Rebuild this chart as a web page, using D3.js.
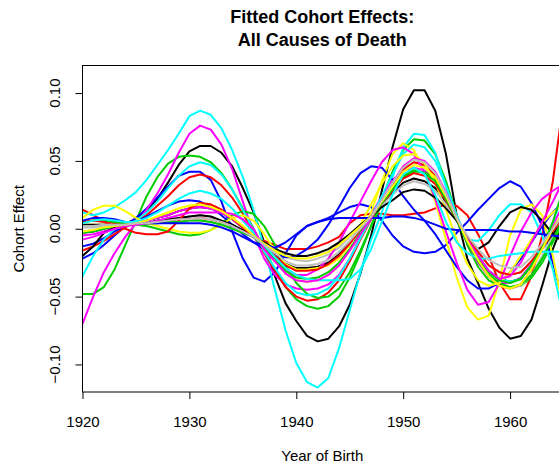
<!DOCTYPE html>
<html>
<head>
<meta charset="utf-8">
<script src="https://cdn.jsdelivr.net/npm/d3@7"></script>
<style>
  body { margin: 0; background: #fff; }
  svg { font-family: "Liberation Sans", Arial, Helvetica, sans-serif; }
</style>
</head>
<body>
<div id="chart"></div>
<script>
// years of birth, one value per year
var years = [1920,1921,1922,1923,1924,1925,1926,1927,1928,1929,1930,1931,1932,1933,1934,1935,1936,
  1937,1938,1939,1940,1941,1942,1943,1944,1945,1946,1947,1948,1949,1950,1951,1952,1953,1954,1955,
  1956,1957,1958,1959,1960,1961,1962,1963,1964,1965];

// fitted cohort effects (matplot order, colours cycle 1..8)
var k1 = [-.003,-.002,.000,.002,.004, .007,.013,.022,.034,.047,.057,.061,.061,.056,.046,.030,.012, -.010,-.035,-.055,-.068,-.079,-.083,-.081,-.072,-.056,-.033,-.005, .028,.060,.088,.102,.102,.087,.055,.010, -.022,-.040,-.059,-.073,-.081,-.079,-.067,-.042, -.015,.005];
var r1 = [.014,.010,.006,.004,.003, .004,.004,.005,.006,.007,.007,.008,.007,.005,.002,-.002,-.006, -.009,-.012,-.015,-.015,-.015,-.013,-.010,-.006,.004,.010,.011, .011,.010,.010,.011,.012,.015,.018,.017, .010,-.004,-.020,-.040,-.052,-.052,-.035,-.005, .035,.095];
var g1 = [-.048,-.048,-.043,-.030,-.012, .006,.024,.038,.048,.053,.054,.053,.049,.041,.029,.015,.000, -.015,-.030,-.043,-.052,-.057,-.059,-.057,-.050,-.036,-.018,.002, .022,.042,.058,.066,.065,.055,.035,.010, -.012,-.028,-.038,-.042,-.043,-.042,-.036,-.025, -.010,.005];
var b1 = [-.022,-.018,-.012,-.005,.002, .008,.015,.023,.031,.039,.042,.042,.036,.020,-.002,-.022,-.036, -.039,-.032,-.018,-.005,.002,.005,.008,.012,.016,.018,.016, .006,-.005,-.013,-.017,-.018,-.017,-.012,-.003, .005,.014,.022,.030,.035,.031,.019,.002, -.025,-.055];
var c1 = [.012,.010,.012,.016,.021, .027,.036,.047,.058,.070,.083,.087,.084,.074,.058,.038,.014, -.014,-.045,-.075,-.099,-.113,-.117,-.110,-.088,-.060,-.032,-.008, .012,.038,.060,.070,.069,.056,.031,.006, -.008,-.009,-.001,.010,.018,.018,.012,-.005, -.030,-.065];
var m1 = [-.070,-.050,-.032,-.018,-.006, .004,.014,.026,.040,.056,.070,.076,.073,.062,.044,.020,-.004, -.022,-.034,-.041,-.044,-.045,-.044,-.041,-.034,-.022,-.006,.010, .024,.036,.043,.045,.043,.036,.024,.008, -.010,-.025,-.035,-.040,-.040,-.036,-.026,-.012, .003,.018];
var y1 = [.003,.003,.003,.003,.003, .004,.006,.009,.012,.015,.017,.018,.016,.013,.008,.002,-.005, -.015,-.024,-.033,-.038,-.039,-.038,-.034,-.027,-.016,-.004,.012, .035,.055,.063,.058,.042,.020,-.008,-.036, -.058,-.067,-.064,-.038,-.005,.014,.018,.010, -.020,-.060];
var gy1 = [-.002,-.001,.001,.002,.003, .004,.004,.006,.007,.008,.009,.010,.009,.006,.003,-.001,-.006, -.011,-.017,-.021,-.023,-.024,-.022,-.019,-.014,-.006,.001,.009, .019,.029,.039,.043,.041,.035,.022,.007, -.009,-.023,-.035,-.042,-.044,-.042,-.034,-.020, -.005,.010];
var k2 = [.003,.003,.003,.003,.003, .004,.006,.008,.010,.013,.015,.016,.015,.012,.007,.001,-.005, -.013,-.019,-.026,-.029,-.029,-.028,-.025,-.019,-.010,-.001,.009, .018,.026,.034,.037,.035,.030,.019,.007, -.008,-.020,-.031,-.037,-.039,-.037,-.027,-.014, -.004,.006];
var r2 = [-.016,-.013,-.009,-.004,.001, .006,.010,.017,.024,.032,.038,.040,.038,.032,.023,.011,-.002, -.018,-.031,-.043,-.050,-.053,-.052,-.047,-.038,-.024,-.008,.007, .020,.033,.044,.049,.047,.039,.025,.008, -.009,-.023,-.035,-.042,-.044,-.041,-.030,-.015, -.002,.010];
var g2 = [.005,.006,.006,.005,.004, .003,.002,.000,-.002,-.004,-.005,-.004,-.001,.004,.010,.013,.011, .002,-.012,-.027,-.040,-.048,-.051,-.050,-.044,-.032,-.016,.002, .018,.030,.038,.042,.042,.036,.022,.006, -.010,-.024,-.034,-.040,-.043,-.041,-.034,-.022, -.008,.008];
var b2 = [-.013,-.011,-.007,-.002,.002, .005,.009,.013,.017,.020,.021,.020,.016,.010,.003,-.004,-.010, -.015,-.019,-.021,-.020,-.015,-.008,.003,.016,.030,.041,.046, .045,.036,.024,.014,.006,-.004,-.016,-.028, -.038,-.044,-.044,-.040,-.032,-.022,-.010,.002, .012,.020];
var c2 = [-.035,-.020,-.008,.000,.003, .006,.012,.020,.030,.039,.046,.049,.047,.040,.029,.014,-.001, -.017,-.029,-.040,-.047,-.049,-.048,-.044,-.035,-.022,-.007,.008, .024,.040,.055,.062,.060,.050,.032,.010, -.008,-.020,-.031,-.037,-.039,-.037,-.027,-.014, .005,.025];
var m2 = [-.005,-.004,-.002,.000,.002, .004,.006,.008,.010,.013,.015,.016,.015,.012,.007,.001,-.005, -.015,-.024,-.031,-.034,-.034,-.030,-.022,-.010,.005,.020,.035, .049,.058,.060,.055,.042,.022,-.002,-.025, -.045,-.056,-.054,-.040,-.020,-.002,.012,.022, .028,.033];
var y2 = [.008,.014,.017,.017,.013, .008,.004,.002,.000,-.002,-.003,-.003,-.001,.003,.008,.010,.006, -.004,-.016,-.026,-.030,-.030,-.029,-.027,-.022,-.012,.003,.018, .033,.046,.054,.055,.048,.034,.014,-.008, -.026,-.038,-.042,-.040,-.032,-.020,-.008,.004, .012,.018];
var gy2 = [.001,.001,.002,.002,.003, .003,.004,.004,.005,.005,.006,.006,.005,.003,.000,-.003,-.006, -.010,-.015,-.018,-.020,-.020,-.018,-.015,-.010,-.004,.003,.009, .017,.025,.032,.035,.033,.028,.018,.006, -.006,-.017,-.027,-.032,-.034,-.032,-.024,-.013, .000,.012];
var k3 = [-.020,-.013,-.003,.001,.003, .004,.004,.006,.007,.008,.009,.010,.009,.006,.003,-.001,-.006, -.010,-.015,-.018,-.020,-.020,-.018,-.015,-.010,-.004,.003,.009, .016,.021,.027,.029,.028,.023,.015,.006, -.006,-.015,-.010,.002,.012,.016,.014,.006, -.004,-.010];
var r3 = [.005,.006,.005,.002,.000, -.003,-.004,-.004,-.002,.006,.015,.019,.018,.014,.008,.001,-.006, -.013,-.020,-.027,-.031,-.031,-.030,-.026,-.020,-.011,-.001,.008, .019,.028,.037,.041,.039,.033,.021,.007, -.006,-.017,-.027,-.032,-.034,-.032,-.024,-.013, .000,.012];
var g3 = [-.003,-.002,.000,.002,.003, .003,.004,.004,.005,.005,.006,.006,.005,.003,.000,-.003,-.006, -.014,-.023,-.031,-.036,-.037,-.036,-.032,-.025,-.015,-.003,.008, .019,.029,.039,.043,.041,.035,.022,.007, -.008,-.021,-.032,-.038,-.040,-.037,-.027,-.014, .005,.030];
var b3 = [.006,.008,.008,.007,.005, .004,.004,.004,.004,.004,.004,.004,.003,.001,-.002,-.006,-.010, -.012,-.014,-.010,-.004,.002,.005,.007,.008,.008,.008,.008, .008,.009,.009,.008,.006,.003,.000,-.001, -.001,-.001,-.001,-.001,-.002,-.002,-.003,-.004, -.005,-.006];
var c3 = [.004,.006,.007,.006,.005, .005,.008,.012,.017,.022,.026,.028,.026,.022,.015,.006,-.003, -.012,-.021,-.029,-.034,-.037,-.038,-.038,-.038,-.037,-.030,-.015, .005,.025,.040,.045,.040,.025,.005,-.010, -.018,-.022,-.022,-.020,-.019,-.018,-.017,-.017, -.017,-.017];
var m3 = [-.008,-.006,-.003,.000,.002, .003,.004,.006,.008,.010,.012,.012,.012,.012,.011,.007,.000, -.015,-.024,-.033,-.038,-.039,-.038,-.034,-.027,-.016,-.004,.008, .021,.034,.046,.052,.050,.042,.027,.008, -.008,-.020,-.031,-.037,-.035,-.025,-.010,.005, .020,.036];
var y3 = [-.002,-.001,.001,.002,.003, .004,.006,.009,.012,.015,.017,.018,.016,.013,.008,.002,-.005, -.011,-.016,-.020,-.022,-.022,-.020,-.017,-.012,-.005,.002,.009, .020,.031,.042,.047,.045,.038,.024,.008, -.009,-.023,-.035,-.042,-.044,-.041,-.030,-.015, .000,.012];
var gy3 = [.002,.002,.003,.003,.003, .004,.004,.005,.006,.007,.007,.008,.007,.005,.002,-.002,-.006, -.012,-.018,-.024,-.027,-.027,-.026,-.023,-.017,-.009,.000,.009, .021,.034,.045,.051,.049,.041,.026,.008, -.005,-.015,-.023,-.027,-.029,-.028,-.021,-.011, .000,.010];

var series = [k1, r1, g1, b1, c1, m1, y1, gy1,
              k2, r2, g2, b2, c2, m2, y2, gy2,
              k3, r3, g3, b3, c3, m3, y3, gy3];

// R's classic palette 1:8
var palette = ["#000000", "#FF0000", "#00CD00", "#0000FF", "#00FFFF", "#FF00FF", "#FFFF00", "#BEBEBE"];

var xTickValues = [1920, 1930, 1940, 1950, 1960];
var yTickValues = [-0.10, -0.05, 0.00, 0.05, 0.10];
var yTickLabels = ["\u22120.10", "\u22120.05", "0.00", "0.05", "0.10"];
var titleLines = ["Fitted Cohort Effects:", "All Causes of Death"];
var xLabel = "Year of Birth";
var yLabel = "Cohort Effect";

var W = 559, H = 467;
var plot = {left: 82.5, right: 562, top: 65.5, bottom: 392};

var svg = d3.select("#chart").append("svg")
    .attr("width", W)
    .attr("height", H);

svg.append("rect").attr("width", W).attr("height", H).attr("fill", "#fff");

var x = d3.scaleLinear()
    .domain([1920, 1970])
    .range([plot.left, plot.left + 50 * 10.69]);

var y = d3.scaleLinear()
    .domain([-0.1203, 0.1203])
    .range([plot.bottom, plot.top]);

svg.append("clipPath")
    .attr("id", "plotclip")
    .append("rect")
    .attr("x", plot.left)
    .attr("y", plot.top)
    .attr("width", plot.right - plot.left)
    .attr("height", plot.bottom - plot.top);

var line_gen = d3.line()
    .x(function(d, i) { return x(years[i]); })
    .y(function(d) { return y(d); })
    .curve(d3.curveLinear);

var lines_g = svg.append("g")
    .attr("clip-path", "url(#plotclip)");

series.forEach(function(s, i) {
    lines_g.append("path")
        .attr("d", line_gen(s))
        .attr("fill", "none")
        .attr("stroke", palette[i % palette.length])
        .attr("stroke-width", 2)
        .attr("stroke-linejoin", "round")
        .attr("stroke-linecap", "round");
});

// box
svg.append("rect")
    .attr("x", plot.left)
    .attr("y", plot.top)
    .attr("width", plot.right - plot.left)
    .attr("height", plot.bottom - plot.top)
    .attr("fill", "none")
    .attr("stroke", "#000")
    .attr("stroke-width", 1);

// x axis (the axis line runs on past the right edge, as in the cropped original)
var xAxis = d3.axisBottom(x)
    .tickValues(xTickValues)
    .tickSizeInner(7)
    .tickSizeOuter(0)
    .tickPadding(17)
    .tickFormat(d3.format("d"));

var gx = svg.append("g")
    .attr("transform", "translate(0," + plot.bottom + ")")
    .call(xAxis);
gx.select(".domain").remove();
gx.selectAll("line").attr("stroke", "#000");
gx.selectAll("text")
    .attr("fill", "#000")
    .style("font-size", "15px")
    .style("font-family", "'Liberation Sans', Arial, sans-serif");

// y axis
var yAxis = d3.axisLeft(y)
    .tickValues(yTickValues)
    .tickSizeInner(7)
    .tickSizeOuter(0)
    .tickFormat("");

var gy = svg.append("g")
    .attr("transform", "translate(" + plot.left + ",0)")
    .call(yAxis);
gy.select(".domain").remove();
gy.selectAll("line").attr("stroke", "#000");

svg.append("g")
    .selectAll("text")
    .data(yTickValues)
    .enter()
    .append("text")
    .attr("transform", function(d) { return "translate(60," + y(d) + ") rotate(-90)"; })
    .attr("text-anchor", "middle")
    .style("font-size", "15px")
    .text(function(d, i) { return yTickLabels[i]; });

// labels
svg.append("text")
    .attr("x", (plot.left + plot.right) / 2)
    .attr("y", 461)
    .attr("text-anchor", "middle")
    .style("font-size", "15px")
    .text(xLabel);

svg.append("text")
    .attr("transform", "translate(24," + (plot.top + plot.bottom) / 2 + ") rotate(-90)")
    .attr("text-anchor", "middle")
    .style("font-size", "15px")
    .text(yLabel);

svg.append("g")
    .selectAll("text")
    .data(titleLines)
    .enter()
    .append("text")
    .attr("x", (plot.left + plot.right) / 2)
    .attr("y", function(d, i) { return 22.7 + i * 23; })
    .attr("text-anchor", "middle")
    .style("font-size", "18px")
    .style("font-weight", "bold")
    .text(function(d) { return d; });
</script>
</body>
</html>
